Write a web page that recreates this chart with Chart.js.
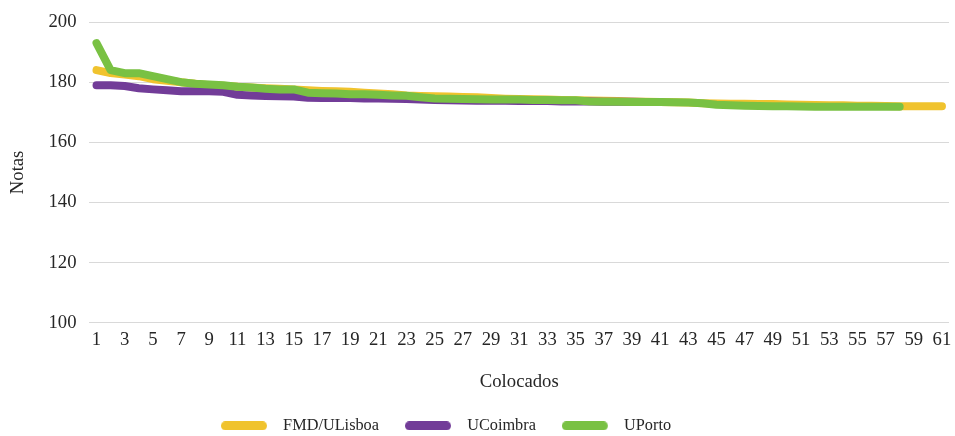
<!DOCTYPE html>
<html>
<head>
<meta charset="utf-8">
<script src="https://cdn.jsdelivr.net/npm/chart.js@4"></script>
<style>
  html, body { margin: 0; padding: 0; background: #fff; }
  #wrap { width: 955px; height: 436px; }
</style>
</head>
<body>
<div id="wrap"><canvas id="chart" width="955" height="436"></canvas></div>
<script>
// Colocados vs Notas
const categories = [];
for (let i = 1; i <= 61; i++) categories.push(String(i));

const lisboa = [184, 183, 182.5, 182, 181, 180.5, 180, 179.5, 179, 178.8, 178.5, 178.2, 178, 177.8, 177.6, 177.3, 177.1, 177, 176.8, 176.5,
  176.2, 176, 175.6, 175.4, 175.3, 175.2, 175.1, 175, 174.7, 174.5, 174.4, 174.3, 174.2, 174.1, 174, 173.9, 173.8, 173.7, 173.6, 173.5,
  173.4, 173.3, 173.2, 173, 172.9, 172.8, 172.8, 172.7, 172.7, 172.6, 172.5, 172.4, 172.3, 172.3, 172.2, 172.2, 172.1, 172, 172, 172, 172];
const coimbra = [179, 179, 178.7, 178, 177.6, 177.3, 177, 177, 177, 176.8, 175.8, 175.6, 175.4, 175.3, 175.2, 174.8, 174.7, 174.7, 174.7, 174.6,
  174.6, 174.5, 174.4, 174.2, 174.1, 174, 173.9, 173.8, 173.8, 173.8, 173.7, 173.7, 173.7, 173.6, 173.6, 173.6, 173.5, 173.5, 173.5, 173.4, 173.4];
const porto = [193, 184, 183, 183, 182, 181, 180, 179.5, 179.2, 179, 178.5, 178.2, 177.8, 177.6, 177.6, 176.5, 176.3, 176.2, 176, 176,
  175.8, 175.6, 175.5, 175, 174.6, 174.5, 174.4, 174.3, 174.2, 174.2, 174.2, 174.1, 174.1, 174, 174, 173.6, 173.5, 173.5, 173.4, 173.4,
  173.4, 173.3, 173.2, 173, 172.5, 172.3, 172.2, 172.1, 172, 172, 171.9, 171.8, 171.8, 171.8, 171.8, 171.8, 171.8, 171.8];

const yTicks = [100, 120, 140, 160, 180, 200];

const FONT = 'Liberation Serif, Times New Roman, serif';
const FS = 18.7;
const TEXT = '#262626';

function line(label, data, color, order) {
  return {
    label: label, data: data, order: order,
    borderColor: color, backgroundColor: color,
    borderWidth: 8, borderCapStyle: 'round', borderJoinStyle: 'round',
    pointRadius: 0, pointHoverRadius: 0, tension: 0, fill: false
  };
}

// legend marker: rounded bar 46x9 with some empty space on its right
function legendBar(color) {
  const c = document.createElement('canvas');
  c.width = 54; c.height = 9;
  const g = c.getContext('2d');
  g.strokeStyle = color; g.lineWidth = 9; g.lineCap = 'round';
  g.beginPath(); g.moveTo(4.5, 4.5); g.lineTo(41.5, 4.5); g.stroke();
  return c;
}

// legend sits a little left of centre in the original
const legendShift = {
  id: 'legendShift',
  afterLayout(chart) { chart.legend.left -= 30; chart.legend.right -= 30; }
};

new Chart(document.getElementById('chart'), {
  type: 'line',
  data: {
    labels: categories,
    datasets: [
      line('FMD/ULisboa', lisboa, '#F0C32E', 2),
      line('UCoimbra', coimbra, '#723C98', 1),
      line('UPorto', porto, '#79C143', 0)
    ]
  },
  plugins: [legendShift],
  options: {
    responsive: false,
    animation: false,
    layout: { padding: { top: 22, right: 6, left: 3, bottom: -8 } },
    plugins: {
      tooltip: { enabled: false },
      legend: {
        position: 'bottom',
        labels: {
          sort: (a, b) => a.datasetIndex - b.datasetIndex,
          generateLabels: (chart) => Chart.defaults.plugins.legend.labels.generateLabels(chart)
            .map(it => Object.assign(it, { pointStyle: legendBar(it.fillStyle), lineWidth: 0 })),
          usePointStyle: true, pointStyleWidth: 54, boxHeight: 9,
          padding: 26, color: TEXT,
          font: { family: FONT, size: 16.3 }
        }
      }
    },
    scales: {
      x: {
        offset: true,
        afterFit: (s) => { s.paddingLeft = 0; s.paddingRight = 0; },
        grid: { display: false, drawTicks: false },
        border: { display: false },
        ticks: {
          autoSkip: false, maxRotation: 0, padding: 6, color: TEXT,
          font: { family: FONT, size: FS },
          callback: function (v, i) { return i % 2 === 0 ? this.getLabelForValue(v) : ''; }
        },
        title: { display: true, text: 'Colocados', color: TEXT, font: { family: FONT, size: FS }, padding: { top: 14, bottom: -2 } }
      },
      y: {
        min: 100, max: 200,
        afterBuildTicks: (s) => { s.ticks = yTicks.map(v => ({ value: v })); },
        afterFit: (s) => { s.paddingTop = 0; s.paddingBottom = 0; },
        grid: { color: '#D9D9D9', lineWidth: 1, drawTicks: false },
        border: { display: false },
        ticks: { padding: 13, color: TEXT, font: { family: FONT, size: FS } },
        title: { display: true, text: 'Notas', color: TEXT, font: { family: FONT, size: FS }, padding: { bottom: 6 } }
      }
    }
  }
});
</script>
</body>
</html>
